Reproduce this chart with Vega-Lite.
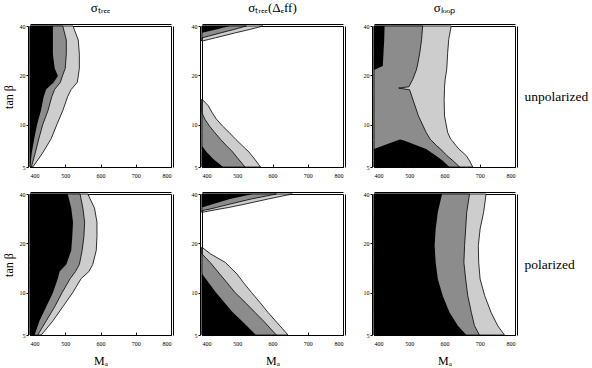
{
"$schema":"https://vega.github.io/schema/vega-lite/v6.json",
"autosize":{"type":"pad"},
"padding":{"left":1,"top":1,"right":1,"bottom":3},
"background":"white",
"config":{
 "view":{"stroke":"black","strokeWidth":1},
 "axis":{"labelFont":"Liberation Serif","labelFontSize":6,"labelColor":"black","tickColor":"black","domainColor":"black","titleFont":"Liberation Serif","titleFontWeight":"normal","titleColor":"black","grid":false},
 "title":{"font":"Liberation Serif","fontWeight":"normal","color":"black"}
},
"datasets":{
"A":[{"t":5.5,"b0":400,"b1":400.5,"b2":404,"b3":408},{"t":6.71,"b0":400,"b1":405,"b2":415,"b3":436},{"t":8.18,"b0":400,"b1":412,"b2":425,"b3":460},{"t":9.97,"b0":400,"b1":420,"b2":436,"b3":476},{"t":12.16,"b0":400,"b1":431,"b2":451,"b3":493},{"t":14.83,"b0":400,"b1":439,"b2":462,"b3":507},{"t":16.4,"b0":400,"b1":446,"b2":470,"b3":517},{"t":18.09,"b0":400,"b1":467,"b2":486,"b3":534},{"t":19.8,"b0":400,"b1":479,"b2":492,"b3":537},{"t":22.06,"b0":400,"b1":470,"b2":500,"b3":540},{"t":26.9,"b0":400,"b1":465,"b2":503,"b3":540},{"t":32.8,"b0":400,"b1":465,"b2":503,"b3":537},{"t":40,"b0":400,"b1":465,"b2":493,"b3":522}],
"B":[{"s":1,"t":32.35,"b0":400,"b1":400,"b2":400,"b3":400},{"s":1,"t":33.1,"b0":400,"b1":400,"b2":400,"b3":419},{"s":1,"t":33.86,"b0":400,"b1":400,"b2":400,"b3":438},{"s":1,"t":34.67,"b0":400,"b1":400,"b2":418,"b3":457},{"s":1,"t":36.4,"b0":400,"b1":400,"b2":455,"b3":496},{"s":1,"t":38.07,"b0":400,"b1":440,"b2":490,"b3":535},{"s":1,"t":40,"b0":400,"b1":479,"b2":526,"b3":573},
{"s":2,"t":5.5,"b0":400,"b1":460,"b2":522,"b3":566},{"s":2,"t":6.16,"b0":400,"b1":432,"b2":503,"b3":549},{"s":2,"t":6.8,"b0":400,"b1":413,"b2":487,"b3":533},{"s":2,"t":7.4,"b0":400,"b1":400,"b2":470,"b3":515},{"s":2,"t":8.1,"b0":400,"b1":400,"b2":453,"b3":496},{"s":2,"t":8.94,"b0":400,"b1":400,"b2":436,"b3":477},{"s":2,"t":9.8,"b0":400,"b1":400,"b2":421,"b3":458},{"s":2,"t":10.78,"b0":400,"b1":400,"b2":408,"b3":441},{"s":2,"t":11.8,"b0":400,"b1":400,"b2":400,"b3":429},{"s":2,"t":13.0,"b0":400,"b1":400,"b2":400,"b3":418},{"s":2,"t":14.3,"b0":400,"b1":400,"b2":400,"b3":400}],
"C":[{"t":5.5,"b0":400,"b1":614,"b2":643,"b3":680},{"t":6.01,"b0":400,"b1":595,"b2":624,"b3":671},{"t":6.45,"b0":400,"b1":576,"b2":607,"b3":662},{"t":7.08,"b0":400,"b1":548,"b2":589,"b3":641},{"t":7.41,"b0":425,"b1":524,"b2":578,"b3":633},{"t":7.96,"b0":463,"b1":487,"b2":564,"b3":622},{"t":8.1,"b0":474,"b1":474,"b2":560,"b3":618},{"t":8.94,"b0":400,"b1":400,"b2":548,"b3":609},{"t":11.3,"b0":400,"b1":400,"b2":526,"b3":600},{"t":14.3,"b0":400,"b1":400,"b2":510,"b3":599},{"t":16.3,"b0":400,"b1":400,"b2":501,"b3":600},{"t":16.7,"b0":400,"b1":400,"b2":470,"b3":600},{"t":17.0,"b0":400,"b1":400,"b2":499,"b3":600},{"t":18.9,"b0":400,"b1":400,"b2":510,"b3":602},{"t":21.5,"b0":400,"b1":400,"b2":520,"b3":606},{"t":22.8,"b0":400,"b1":425,"b2":523,"b3":607},{"t":27.5,"b0":400,"b1":427,"b2":530,"b3":609},{"t":33.1,"b0":400,"b1":429,"b2":535,"b3":612},{"t":40,"b0":400,"b1":430,"b2":538,"b3":619}],
"D":[{"t":5.5,"b0":400,"b1":413,"b2":422,"b3":432},{"t":6.71,"b0":400,"b1":427,"b2":446,"b3":465},{"t":8.18,"b0":400,"b1":446,"b2":470,"b3":493},{"t":9.97,"b0":400,"b1":465,"b2":491,"b3":521},{"t":12.16,"b0":400,"b1":479,"b2":514,"b3":545},{"t":13.43,"b0":400,"b1":484,"b2":529,"b3":567},{"t":14.83,"b0":400,"b1":503,"b2":540,"b3":578},{"t":18.09,"b0":400,"b1":517,"b2":548,"b3":588},{"t":22.06,"b0":400,"b1":520,"b2":553,"b3":590},{"t":26.9,"b0":400,"b1":522,"b2":555,"b3":590},{"t":32.8,"b0":400,"b1":517,"b2":550,"b3":583},{"t":40,"b0":400,"b1":507,"b2":542,"b3":564}],
"E":[{"s":1,"t":30.9,"b0":400,"b1":400,"b2":400,"b3":400},{"s":1,"t":31.65,"b0":400,"b1":400,"b2":400,"b3":425},{"s":1,"t":32.4,"b0":400,"b1":400,"b2":423,"b3":451},{"s":1,"t":33.1,"b0":400,"b1":400,"b2":441,"b3":476},{"s":1,"t":34.7,"b0":400,"b1":432,"b2":479,"b3":522},{"s":1,"t":37.3,"b0":400,"b1":479,"b2":540,"b3":588},{"s":1,"t":40,"b0":400,"b1":545,"b2":611,"b3":656},
{"s":2,"t":5.5,"b0":400,"b1":553,"b2":611,"b3":644},{"s":2,"t":5.99,"b0":400,"b1":536,"b2":595,"b3":629},{"s":2,"t":6.58,"b0":400,"b1":517,"b2":578,"b3":612},{"s":2,"t":7.57,"b0":400,"b1":487,"b2":550,"b3":587},{"s":2,"t":8.72,"b0":400,"b1":463,"b2":522,"b3":564},{"s":2,"t":10.03,"b0":400,"b1":439,"b2":493,"b3":540},{"s":2,"t":11.55,"b0":400,"b1":418,"b2":470,"b3":517},{"s":2,"t":13.0,"b0":400,"b1":400,"b2":450,"b3":499},{"s":2,"t":15.28,"b0":400,"b1":400,"b2":423,"b3":466},{"s":2,"t":17.18,"b0":400,"b1":400,"b2":400,"b3":425},{"s":2,"t":18.9,"b0":400,"b1":400,"b2":400,"b3":400}],
"F":[{"t":5.5,"b0":400,"b1":662,"b2":699,"b3":770},{"t":6.27,"b0":400,"b1":638,"b2":685,"b3":751},{"t":7.57,"b0":400,"b1":614,"b2":676,"b3":732},{"t":9.57,"b0":400,"b1":595,"b2":666,"b3":714},{"t":12.09,"b0":400,"b1":581,"b2":660,"b3":701},{"t":15.28,"b0":400,"b1":575,"b2":655,"b3":697},{"t":19.35,"b0":400,"b1":572,"b2":657,"b3":696},{"t":24.45,"b0":400,"b1":575,"b2":660,"b3":701},{"t":30.9,"b0":400,"b1":581,"b2":663,"b3":711},{"t":40,"b0":400,"b1":593,"b2":671,"b3":718}]
},
"concat":[
 {"width":141,"height":141,"title":{"text":"σₜᵣₑₑ","fontSize":13,"offset":8},"data":{"name":"A"},"resolve":{"axis":{"x":"independent","y":"independent"}},
  "layer":[
   {"mark":{"type":"area","orient":"horizontal","fill":"#cdcdcd","stroke":"black","strokeWidth":0.8},"encoding":{"y":{"field":"t","type":"quantitative","scale":{"type":"log","domain":[5.5,40],"nice":false},"axis":{"orient":"right","offset":2,"labels":false,"ticks":false,"title":null}},"x":{"field":"b3","type":"quantitative","scale":{"domain":[400,800],"nice":false,"zero":false},"axis":{"orient":"top","offset":2,"labels":false,"ticks":false,"title":null}},"x2":{"datum":400},"detail":{"field":"s"}}},
   {"mark":{"type":"area","orient":"horizontal","fill":"#8c8c8c","stroke":"black","strokeWidth":0.8},"encoding":{"y":{"field":"t","type":"quantitative","axis":null},"x":{"field":"b2","type":"quantitative","axis":null},"x2":{"datum":400},"detail":{"field":"s"}}},
   {"mark":{"type":"area","orient":"horizontal","fill":"black"},"encoding":{"y":{"field":"t","type":"quantitative","axis":{"orient":"left","values":[5.5,10,20,40],"labelExpr":"datum.value < 6 ? '5' : format(datum.value,'d')","tickSize":2,"offset":2,"labelPadding":1,"title":"tan β","titleFontSize":12,"titlePadding":4}},"x":{"field":"b0","type":"quantitative","axis":{"orient":"bottom","values":[400,500,600,700,800],"format":"d","tickSize":-3,"labelPadding":8,"title":null}},"x2":{"field":"b1"},"detail":{"field":"s"}}}
  ]},
 {"width":141,"height":141,"title":{"text":"σₜᵣₑₑ(Δₑff)","fontSize":13,"offset":8},"data":{"name":"B"},"resolve":{"axis":{"x":"independent","y":"independent"}},
  "layer":[
   {"mark":{"type":"area","orient":"horizontal","fill":"#cdcdcd","stroke":"black","strokeWidth":0.8},"encoding":{"y":{"field":"t","type":"quantitative","scale":{"type":"log","domain":[5.5,40],"nice":false},"axis":{"orient":"right","offset":2,"labels":false,"ticks":false,"title":null}},"x":{"field":"b3","type":"quantitative","scale":{"domain":[400,800],"nice":false,"zero":false},"axis":{"orient":"top","offset":2,"labels":false,"ticks":false,"title":null}},"x2":{"datum":400},"detail":{"field":"s"}}},
   {"mark":{"type":"area","orient":"horizontal","fill":"#8c8c8c","stroke":"black","strokeWidth":0.8},"encoding":{"y":{"field":"t","type":"quantitative","axis":null},"x":{"field":"b2","type":"quantitative","axis":null},"x2":{"datum":400},"detail":{"field":"s"}}},
   {"mark":{"type":"area","orient":"horizontal","fill":"black"},"encoding":{"y":{"field":"t","type":"quantitative","axis":{"orient":"left","values":[5.5,10,20,40],"labelExpr":"datum.value < 6 ? '5' : format(datum.value,'d')","tickSize":2,"offset":2,"labelPadding":1,"title":null}},"x":{"field":"b0","type":"quantitative","axis":{"orient":"bottom","values":[400,500,600,700,800],"format":"d","tickSize":-3,"labelPadding":8,"title":null}},"x2":{"field":"b1"},"detail":{"field":"s"}}}
  ]},
 {"width":141,"height":141,"title":{"text":"σₗₒₒₚ","fontSize":13,"offset":8},"data":{"name":"C"},"resolve":{"axis":{"x":"independent","y":"independent"}},
  "layer":[
   {"mark":{"type":"area","orient":"horizontal","fill":"#cdcdcd","stroke":"black","strokeWidth":0.8},"encoding":{"y":{"field":"t","type":"quantitative","scale":{"type":"log","domain":[5.5,40],"nice":false},"axis":{"orient":"right","offset":2,"labels":false,"ticks":false,"title":"unpolarized","titleAngle":0,"titleAlign":"left","titleBaseline":"middle","titleFontSize":13.5,"titlePadding":7}},"x":{"field":"b3","type":"quantitative","scale":{"domain":[400,800],"nice":false,"zero":false},"axis":{"orient":"top","offset":2,"labels":false,"ticks":false,"title":null}},"x2":{"datum":400},"detail":{"field":"s"}}},
   {"mark":{"type":"area","orient":"horizontal","fill":"#8c8c8c","stroke":"black","strokeWidth":0.8},"encoding":{"y":{"field":"t","type":"quantitative","axis":null},"x":{"field":"b2","type":"quantitative","axis":null},"x2":{"datum":400},"detail":{"field":"s"}}},
   {"mark":{"type":"area","orient":"horizontal","fill":"black"},"encoding":{"y":{"field":"t","type":"quantitative","axis":{"orient":"left","values":[5.5,10,20,40],"labelExpr":"datum.value < 6 ? '5' : format(datum.value,'d')","tickSize":2,"offset":2,"labelPadding":1,"title":null}},"x":{"field":"b0","type":"quantitative","axis":{"orient":"bottom","values":[400,500,600,700,800],"format":"d","tickSize":-3,"labelPadding":8,"title":null}},"x2":{"field":"b1"},"detail":{"field":"s"}}}
  ]},
 {"width":141,"height":141,"data":{"name":"D"},"resolve":{"axis":{"x":"independent","y":"independent"}},
  "layer":[
   {"mark":{"type":"area","orient":"horizontal","fill":"#cdcdcd","stroke":"black","strokeWidth":0.8},"encoding":{"y":{"field":"t","type":"quantitative","scale":{"type":"log","domain":[5.5,40],"nice":false},"axis":{"orient":"right","offset":2,"labels":false,"ticks":false,"title":null}},"x":{"field":"b3","type":"quantitative","scale":{"domain":[400,800],"nice":false,"zero":false},"axis":{"orient":"top","offset":2,"labels":false,"ticks":false,"title":null}},"x2":{"datum":400},"detail":{"field":"s"}}},
   {"mark":{"type":"area","orient":"horizontal","fill":"#8c8c8c","stroke":"black","strokeWidth":0.8},"encoding":{"y":{"field":"t","type":"quantitative","axis":null},"x":{"field":"b2","type":"quantitative","axis":null},"x2":{"datum":400},"detail":{"field":"s"}}},
   {"mark":{"type":"area","orient":"horizontal","fill":"black"},"encoding":{"y":{"field":"t","type":"quantitative","axis":{"orient":"left","values":[5.5,10,20,40],"labelExpr":"datum.value < 6 ? '5' : format(datum.value,'d')","tickSize":2,"offset":2,"labelPadding":1,"title":"tan β","titleFontSize":12,"titlePadding":4}},"x":{"field":"b0","type":"quantitative","axis":{"orient":"bottom","values":[400,500,600,700,800],"format":"d","tickSize":-3,"labelPadding":8,"title":"Mₐ","titleFontSize":12,"titlePadding":9}},"x2":{"field":"b1"},"detail":{"field":"s"}}}
  ]},
 {"width":141,"height":141,"data":{"name":"E"},"resolve":{"axis":{"x":"independent","y":"independent"}},
  "layer":[
   {"mark":{"type":"area","orient":"horizontal","fill":"#cdcdcd","stroke":"black","strokeWidth":0.8},"encoding":{"y":{"field":"t","type":"quantitative","scale":{"type":"log","domain":[5.5,40],"nice":false},"axis":{"orient":"right","offset":2,"labels":false,"ticks":false,"title":null}},"x":{"field":"b3","type":"quantitative","scale":{"domain":[400,800],"nice":false,"zero":false},"axis":{"orient":"top","offset":2,"labels":false,"ticks":false,"title":null}},"x2":{"datum":400},"detail":{"field":"s"}}},
   {"mark":{"type":"area","orient":"horizontal","fill":"#8c8c8c","stroke":"black","strokeWidth":0.8},"encoding":{"y":{"field":"t","type":"quantitative","axis":null},"x":{"field":"b2","type":"quantitative","axis":null},"x2":{"datum":400},"detail":{"field":"s"}}},
   {"mark":{"type":"area","orient":"horizontal","fill":"black"},"encoding":{"y":{"field":"t","type":"quantitative","axis":{"orient":"left","values":[5.5,10,20,40],"labelExpr":"datum.value < 6 ? '5' : format(datum.value,'d')","tickSize":2,"offset":2,"labelPadding":1,"title":null}},"x":{"field":"b0","type":"quantitative","axis":{"orient":"bottom","values":[400,500,600,700,800],"format":"d","tickSize":-3,"labelPadding":8,"title":"Mₐ","titleFontSize":12,"titlePadding":9}},"x2":{"field":"b1"},"detail":{"field":"s"}}}
  ]},
 {"width":141,"height":141,"data":{"name":"F"},"resolve":{"axis":{"x":"independent","y":"independent"}},
  "layer":[
   {"mark":{"type":"area","orient":"horizontal","fill":"#cdcdcd","stroke":"black","strokeWidth":0.8},"encoding":{"y":{"field":"t","type":"quantitative","scale":{"type":"log","domain":[5.5,40],"nice":false},"axis":{"orient":"right","offset":2,"labels":false,"ticks":false,"title":"polarized","titleAngle":0,"titleAlign":"left","titleBaseline":"middle","titleFontSize":13.5,"titlePadding":7}},"x":{"field":"b3","type":"quantitative","scale":{"domain":[400,800],"nice":false,"zero":false},"axis":{"orient":"top","offset":2,"labels":false,"ticks":false,"title":null}},"x2":{"datum":400},"detail":{"field":"s"}}},
   {"mark":{"type":"area","orient":"horizontal","fill":"#8c8c8c","stroke":"black","strokeWidth":0.8},"encoding":{"y":{"field":"t","type":"quantitative","axis":null},"x":{"field":"b2","type":"quantitative","axis":null},"x2":{"datum":400},"detail":{"field":"s"}}},
   {"mark":{"type":"area","orient":"horizontal","fill":"black"},"encoding":{"y":{"field":"t","type":"quantitative","axis":{"orient":"left","values":[5.5,10,20,40],"labelExpr":"datum.value < 6 ? '5' : format(datum.value,'d')","tickSize":2,"offset":2,"labelPadding":1,"title":null}},"x":{"field":"b0","type":"quantitative","axis":{"orient":"bottom","values":[400,500,600,700,800],"format":"d","tickSize":-3,"labelPadding":8,"title":"Mₐ","titleFontSize":12,"titlePadding":9}},"x2":{"field":"b1"},"detail":{"field":"s"}}}
  ]}
],
"columns":3,
"spacing":{"row":27,"column":31},
"bounds":"flush"
}
